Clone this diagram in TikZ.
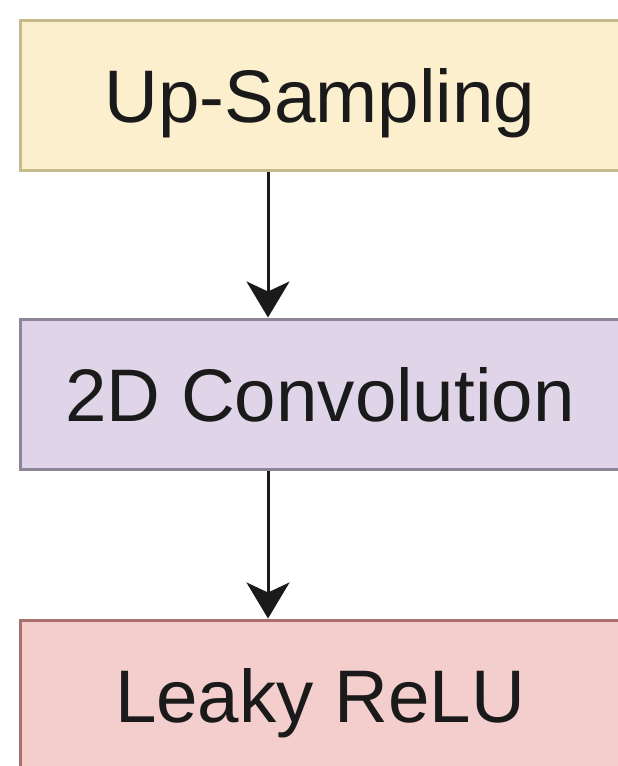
\documentclass[tikz,border=0pt]{standalone}
\usepackage{fontspec}
\setmainfont{Liberation Sans}
\usetikzlibrary{arrows.meta}

\definecolor{upfill}{HTML}{FCEFCE}
\definecolor{updraw}{HTML}{C6BA8C}
\definecolor{convfill}{HTML}{E0D5E8}
\definecolor{convdraw}{HTML}{8E8599}
\definecolor{relufill}{HTML}{F4CDCD}
\definecolor{reludraw}{HTML}{A8706E}
\definecolor{ink}{HTML}{1A1A1A}

\tikzset{
  layerbox/.style={rectangle, line width=3pt, minimum width=600pt,
    minimum height=150pt, inner sep=0pt, text=ink,
    text height=54pt, text depth=0pt,
    font=\fontsize{74.5}{80}\selectfont},
  flow/.style={line width=3pt, draw=ink,
    -{Stealth[length=36pt,width=43pt,inset=10pt]}}
}

\begin{document}
\begin{tikzpicture}[x=1pt,y=-1pt]
  \useasboundingbox (0,0) rectangle (618,766);
  \clip (0,0) rectangle (618,766);
  \fill[white] (0,0) rectangle (618,766);

  \node[layerbox, fill=upfill, draw=updraw]     (up)   at (320,95)  {Up-Sampling};
  \node[layerbox, fill=convfill, draw=convdraw] (conv) at (320,394) {2D Convolution};
  \node[layerbox, fill=relufill, draw=reludraw] (relu) at (320,695) {Leaky ReLU};

  \coordinate (ax) at (268,0);
  \draw[flow] (ax |- up.south) -- (ax |- conv.north);
  \draw[flow] (ax |- conv.south) -- (ax |- relu.north);
\end{tikzpicture}
\end{document}
